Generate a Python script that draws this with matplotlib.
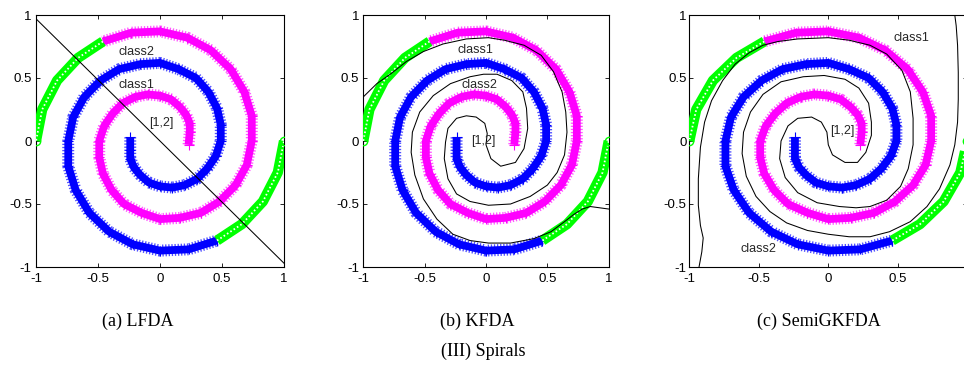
import matplotlib
matplotlib.use("Agg")
import matplotlib.pyplot as plt

plt.rcParams['axes.unicode_minus'] = False
plt.rcParams['font.family'] = ['Liberation Sans', 'DejaVu Sans']

# ---------------- data ----------------
# class 1 spiral (magenta), labelled part
mag_x = [0.23, 0.24, 0.24, 0.21, 0.16, 0.09, 0.00, -0.10, -0.20, -0.30, -0.38, -0.45, -0.49,
         -0.49, -0.46, -0.39, -0.29, -0.15, 0.00, 0.16, 0.33, 0.48, 0.61, 0.70, 0.74,
         0.74, 0.68, 0.57, 0.41, 0.22, 0.00, -0.23, -0.46]
mag_y = [-0.03, 0.07, 0.14, 0.21, 0.27, 0.33, 0.36, 0.37, 0.35, 0.30, 0.22, 0.12, 0.00,
         -0.13, -0.26, -0.39, -0.50, -0.57, -0.62, -0.61, -0.57, -0.48, -0.35, -0.19, 0.00,
         0.20, 0.39, 0.57, 0.72, 0.82, 0.87, 0.86, 0.79]
# class 1 spiral, unlabelled tail (green)
mag_tail_x = [-0.46, -0.66, -0.83, -0.95, -1.00]
mag_tail_y = [0.79, 0.66, 0.48, 0.25, 0.00]

# class 2 spiral (blue), labelled part
blue_x = [-0.24, -0.24, -0.24, -0.21, -0.16, -0.09, 0.00, 0.10, 0.20, 0.30, 0.38, 0.45, 0.49,
          0.49, 0.46, 0.39, 0.29, 0.15, 0.00, -0.16, -0.33, -0.48, -0.61, -0.70, -0.74,
          -0.74, -0.68, -0.57, -0.41, -0.22, 0.00, 0.23, 0.46]
blue_y = [0.03, -0.07, -0.14, -0.21, -0.27, -0.33, -0.36, -0.37, -0.35, -0.30, -0.22, -0.12, 0.00,
          0.13, 0.26, 0.39, 0.50, 0.57, 0.62, 0.61, 0.57, 0.48, 0.35, 0.19, 0.00,
          -0.20, -0.39, -0.57, -0.72, -0.82, -0.87, -0.86, -0.79]
# class 2 spiral, unlabelled tail (green)
blue_tail_x = [0.46, 0.66, 0.83, 0.95, 1.00]
blue_tail_y = [-0.79, -0.66, -0.48, -0.25, 0.00]

# decision boundaries
lfda_x = [-1.00, 1.00]
lfda_y = [0.97, -0.97]

kfda_x = [-1.00, -0.89, -0.78, -0.65, -0.51, -0.35, -0.16, 0.02, 0.15, 0.31, 0.45, 0.55,
          0.62, 0.65, 0.66, 0.64, 0.58, 0.50, 0.36, 0.20, 0.02, -0.13, -0.24, -0.31,
          -0.34, -0.33, -0.31, -0.24, -0.16, -0.08, -0.01, 0.01, 0.00, 0.04, 0.12, 0.24,
          0.31, 0.34, 0.33, 0.30, 0.21, 0.09, -0.02, -0.13, -0.29, -0.43, -0.54, -0.60,
          -0.61, -0.58, -0.51, -0.40, -0.27, -0.13, 0.02, 0.20, 0.39, 0.53, 0.64, 0.72,
          0.785, 0.85, 1.00]
kfda_y = [0.35, 0.455, 0.53, 0.63, 0.71, 0.77, 0.81, 0.82, 0.80, 0.76, 0.68, 0.55,
          0.39, 0.23, 0.07, -0.11, -0.25, -0.35, -0.44, -0.50, -0.51, -0.48, -0.42, -0.30,
          -0.14, -0.01, 0.10, 0.18, 0.20, 0.19, 0.14, 0.06, -0.03, -0.14, -0.20, -0.17,
          -0.06, 0.10, 0.26, 0.39, 0.48, 0.53, 0.53, 0.51, 0.455, 0.36, 0.23, 0.07,
          -0.09, -0.27, -0.46, -0.62, -0.74, -0.79, -0.81, -0.81, -0.775, -0.72, -0.64, -0.58,
          -0.54, -0.52, -0.54]

semi_x = [0.91, 0.92, 0.93, 0.935, 0.935, 0.93, 0.91, 0.875, 0.80, 0.71, 0.59, 0.44,
          0.30, 0.15, 0.00, -0.15, -0.30, -0.42, -0.52, -0.59, -0.62, -0.61, -0.56, -0.47,
          -0.34, -0.18, -0.03, 0.12, 0.22, 0.29, 0.31, 0.31, 0.27, 0.21, 0.12, 0.03,
          0.00, -0.01, -0.05, -0.12, -0.22, -0.29, -0.34, -0.35, -0.31, -0.22, -0.08, 0.08,
          0.20, 0.30, 0.42, 0.52, 0.575, 0.61, 0.61, 0.59, 0.53, 0.42, 0.30, 0.15,
          0.00, -0.22, -0.36, -0.47, -0.57, -0.67, -0.76, -0.84, -0.89, -0.92, -0.935, -0.935,
          -0.92, -0.90, -0.91, -0.93]
semi_y = [1.00, 0.915, 0.76, 0.545, 0.33, 0.15, -0.03, -0.19, -0.38, -0.52, -0.64, -0.72,
          -0.76, -0.76, -0.74, -0.71, -0.65, -0.56, -0.44, -0.28, -0.10, 0.07, 0.23, 0.37,
          0.47, 0.51, 0.52, 0.49, 0.42, 0.30, 0.15, 0.045, -0.09, -0.17, -0.17, -0.11,
          -0.03, 0.07, 0.15, 0.19, 0.18, 0.12, 0.00, -0.14, -0.29, -0.41, -0.49, -0.52,
          -0.53, -0.52, -0.47, -0.36, -0.22, -0.03, 0.18, 0.39, 0.56, 0.69, 0.76, 0.80,
          0.82, 0.81, 0.79, 0.76, 0.70, 0.61, 0.48, 0.32, 0.15, -0.05, -0.30, -0.51,
          -0.67, -0.77, -0.88, -1.00]

tick_vals = [-1, -0.5, 0, 0.5, 1]
tick_labels = ['-1', '-0.5', '0', '0.5', '1']
# the third panel is cut at the right border of the picture: its "1" is not shown
x_tick_labels_panel3 = ['-1', '-0.5', '0', '0.5', '']

captions = ['(a) LFDA', '(b) KFDA', '(c) SemiGKFDA']
suptitle = '(III) Spirals'

# label texts: (text, x, y)
panel_labels = [
    [('class2', -0.19, 0.71), ('class1', -0.19, 0.445), ('[1,2]', 0.01, 0.145)],
    [('class1', -0.09, 0.72), ('class2', -0.05, 0.445), ('[1,2]', -0.02, 0.0)],
    [('class1', 0.595, 0.82), ('class2', -0.50, -0.86), ('[1,2]', 0.10, 0.08)],
]
boundaries = [(lfda_x, lfda_y), (kfda_x, kfda_y), (semi_x, semi_y)]

# ---------------- drawing ----------------
fig = plt.figure(figsize=(9.64, 3.70), dpi=100)
W, H = 964.0, 370.0
axes_px = [(36, 284), (363.3, 608.7), (689.3, 967.3)]
top_px, bot_px = 15.0, 267.0

MAG, MAG_E = '#ff00ff', '#ff5cff'
BLU, BLU_E = '#0000ff', '#5050ff'
GRN = '#00ff00'


def band(ax, x, y, core, edge):
    ax.plot(x, y, color=edge, lw=8.6, ls=(0, (0.11, 0.15)), dash_capstyle='butt', zorder=2)
    ax.plot(x, y, color=core, lw=5.6, solid_capstyle='butt', zorder=3)
    ax.plot(x, y, ls='none', marker='+', ms=7, mew=0.8, color=core, zorder=3)


def tail(ax, x, y):
    ax.plot(x, y, color=GRN, lw=7.4, solid_capstyle='butt', zorder=4)
    ax.plot(x, y, color='white', lw=1.3, ls=(0, (0.9, 1.3)), zorder=5)
    ax.plot([x[-1]], [y[-1]], ls='none', marker='o', ms=6, mfc='none', mec=GRN, mew=1.0, zorder=5)


for i, (l, r) in enumerate(axes_px):
    ax = fig.add_axes([l / W, (H - bot_px) / H, (r - l) / W, (bot_px - top_px) / H])
    band(ax, mag_x, mag_y, MAG, MAG_E)
    band(ax, blue_x, blue_y, BLU, BLU_E)
    tail(ax, mag_tail_x, mag_tail_y)
    tail(ax, blue_tail_x, blue_tail_y)
    bx, by = boundaries[i]
    ax.plot(bx, by, color='black', lw=0.75, zorder=6)
    for txt, tx, ty in panel_labels[i]:
        ax.text(tx, ty, txt, fontsize=9, color='#262626', ha='center', va='center', zorder=7)
    ax.set_xlim(-1, 1)
    ax.set_ylim(-1, 1)
    ax.set_xticks(tick_vals)
    ax.set_xticklabels(x_tick_labels_panel3 if i == 2 else tick_labels)
    ax.set_yticks(tick_vals)
    ax.set_yticklabels(tick_labels)
    ax.tick_params(direction='in', top=True, right=True, length=3, width=0.6,
                   labelsize=9.5, colors='black')
    ax.tick_params(axis='x', pad=4)
    ax.tick_params(axis='y', pad=2 if i == 2 else 3)
    for s in ax.spines.values():
        s.set_linewidth(0.8)
    ax.set_facecolor('white')

cap_x = [138, 477, 819]
for c, cx in zip(captions, cap_x):
    fig.text(cx / W, 1 - 321 / H, c, ha='center', va='center', fontsize=13,
             family=['Liberation Serif', 'DejaVu Serif'])
fig.text(483 / W, 1 - 351 / H, suptitle, ha='center', va='center', fontsize=13,
         family=['Liberation Serif', 'DejaVu Serif'])

fig.savefig('out.png', dpi=100)
